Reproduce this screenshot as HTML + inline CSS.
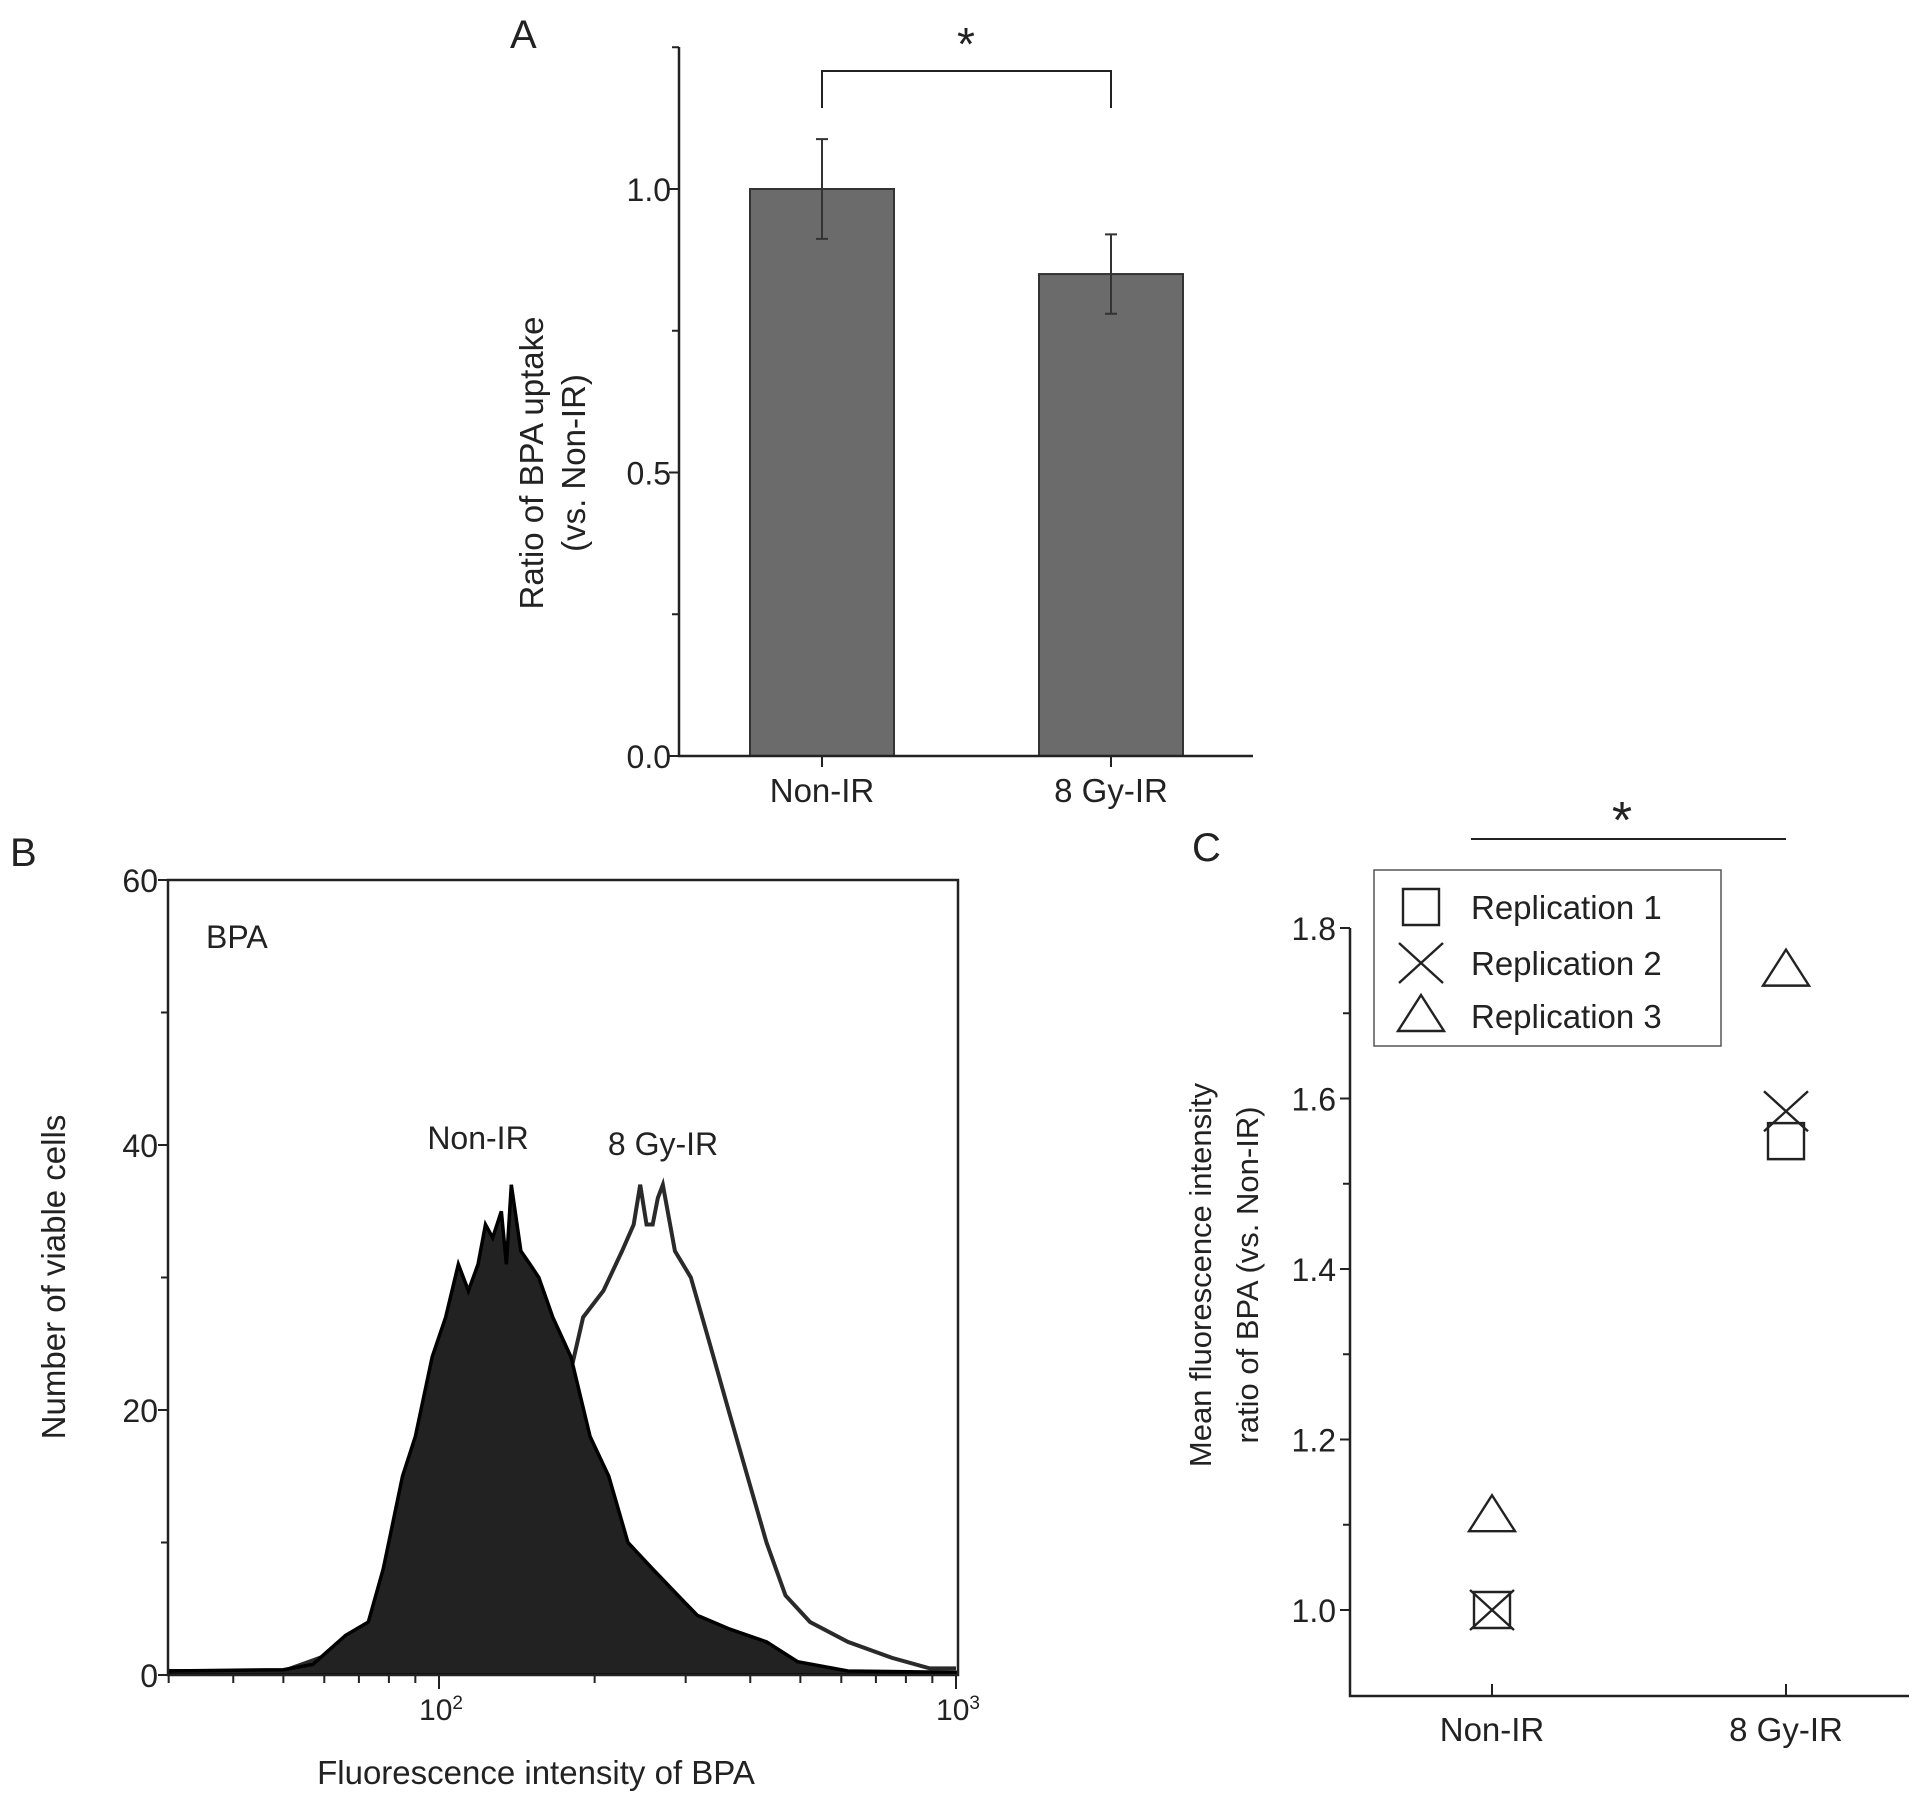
<!DOCTYPE html>
<html><head><meta charset="utf-8"><style>
html,body{margin:0;padding:0;background:#fff}
svg{display:block}
text{font-family:"Liberation Sans",Arial,sans-serif;fill:#222}
</style></head><body>
<svg id="fig" width="1913" height="1793" viewBox="0 0 1913 1793" xmlns="http://www.w3.org/2000/svg">
<g id="pa"></g>
<g id="pb"></g>
<g id="pc"></g>
</svg>
<script>
// ---- Panel A data ----
const aCategories = ["Non-IR", "8 Gy-IR"];
const aValues = [1.0, 0.85];
const aErrors = [0.088, 0.07];
const aTicks = [0.0, 0.5, 1.0];
const aTickLabels = ["0.0", "0.5", "1.0"];
const aMinor = [0.25, 0.75, 1.25];
// ---- Panel B data ----
const bTicks = [0, 20, 40, 60];
const bMinor = [10, 30, 50];
const bXMinor = [30,40,50,60,70,80,90,200,300,400,500,600,700,800,900];
const bNonX = [30,50,57,66,73,78,85,90,97,103,109,114,119,123,127,132,135,138,144,150,156,166,180,196,213,232,259,290,316,363,430,494,618,1000];
const bNonY = [0.3,0.4,0.8,3,4,8,15,18,24,27,31,29,31,34,33,35,31,37,32,31,30,27,24,18,15,10,8,6,4.5,3.5,2.5,1,0.3,0.2];
const bIrX = [30,50,66,78,90,103,119,138,156,180,190,208,226,238,245,252,259,265,271,286,307,334,363,395,430,468,522,618,751,890,1000];
const bIrY = [0.3,0.3,2,5,12,18,21,22,22,23,27,29,32,34,37,34,34,36,37,32,30,25,20,15,10,6,4,2.5,1.3,0.5,0.5];
// ---- Panel C data ----
const cCategories = ["Non-IR", "8 Gy-IR"];
const cRep1 = [1.0, 1.55];
const cRep2 = [1.0, 1.585];
const cRep3 = [1.11, 1.75];
const cTicks = [1.0, 1.2, 1.4, 1.6, 1.8];
const cTickLabels = ["1.0", "1.2", "1.4", "1.6", "1.8"];
const cMinor = [1.1, 1.3, 1.5, 1.7];

const NS = "http://www.w3.org/2000/svg";
function mk(parent, tag, attrs, txt){
  const e = document.createElementNS(NS, tag);
  for (const k in attrs) e.setAttribute(k, attrs[k]);
  if (txt !== undefined) e.textContent = txt;
  parent.appendChild(e);
  return e;
}
const S = "#222";

// ================= Panel A =================
(function(){
  const g = document.getElementById("pa");
  const x0 = 679, x1 = 1253, y0 = 756, yTop = 47;
  const ay = v => y0 - v * 567;
  const ax = i => [822, 1111][i];
  const bw = 144;
  let t = mk(g, "text", {x: 510, y: 48, "font-size": 40}, "A");
  
  
  aCategories.forEach((c, i) => {
    const r = mk(g, "rect", {x: ax(i) - bw/2, y: ay(aValues[i]), width: bw, height: y0 - ay(aValues[i]), fill: "#6b6b6b", stroke: "#333", "stroke-width": 2});
    
    
    const eb = mk(g, "path", {d: `M${ax(i)},${ay(aValues[i]+aErrors[i])}V${ay(aValues[i]-aErrors[i])}M${ax(i)-6},${ay(aValues[i]+aErrors[i])}h12M${ax(i)-6},${ay(aValues[i]-aErrors[i])}h12`, stroke: "#333", "stroke-width": 2, fill: "none"});
    
    
    const tk = mk(g, "line", {x1: ax(i), x2: ax(i), y1: y0, y2: y0 + 11, stroke: S, "stroke-width": 2});
    
    
    const lb = mk(g, "text", {x: ax(i), y: y0 + 46, "font-size": 33, "text-anchor": "middle"}, c);
    
    
  });
  const ax1 = mk(g, "path", {d: `M${x0},${yTop}V${y0}H${x1}`, stroke: S, "stroke-width": 2.5, fill: "none"});
  
  
  aTicks.forEach((v, i) => {
    const l = mk(g, "line", {x1: x0 - 10, x2: x0, y1: ay(v), y2: ay(v), stroke: S, "stroke-width": 2});
    
    
    const tx = mk(g, "text", {x: x0 - 8, y: ay(v) + 12, "font-size": 32, "text-anchor": "end"}, aTickLabels[i]);
    
    
  });
  aMinor.forEach(v => {
    const l = mk(g, "line", {x1: x0 - 7, x2: x0, y1: ay(v), y2: ay(v), stroke: S, "stroke-width": 2});
    
    
  });
  const yt = mk(g, "text", {transform: "translate(543,463) rotate(-90)", "font-size": 33, "text-anchor": "middle"}, "Ratio of BPA uptake");
  
  
  const yt2 = mk(g, "text", {transform: "translate(585,463) rotate(-90)", "font-size": 33, "text-anchor": "middle"}, "(vs. Non-IR)");
  
  
  const br = mk(g, "path", {d: `M${ax(0)},108V71H${ax(1)}V108`, stroke: S, "stroke-width": 2, fill: "none"});
  
  
  const st = mk(g, "text", {x: 966, y: 60, "font-size": 46, "text-anchor": "middle"}, "*");
  
  
})();

// ================= Panel B =================
(function(){
  const g = document.getElementById("pb");
  const L = 168, R = 958, T = 880, B = 1675;
  const lx = v => 439 + (Math.log10(v) - 2) * 517;
  const by = v => B - v * (B - T) / 60;
  let t = mk(g, "text", {x: 10, y: 866, "font-size": 40}, "B");
  
  
  const clip = mk(g, "clipPath", {id: "bclip"});
  mk(clip, "rect", {x: L, y: T, width: R - L, height: B - T});
  let d2 = `M${lx(bIrX[0])},${by(0)}`;
  bIrX.forEach((x, i) => d2 += `L${lx(x)},${by(bIrY[i])}`);
  const ir = mk(g, "path", {d: d2, fill: "none", stroke: "#2a2a2a", "stroke-width": 4, "clip-path": "url(#bclip)"});
  
  
  let d1 = `M${lx(bNonX[0])},${by(0)}`;
  bNonX.forEach((x, i) => d1 += `L${lx(x)},${by(bNonY[i])}`);
  d1 += `L${lx(bNonX[bNonX.length-1])},${by(0)}Z`;
  const non = mk(g, "path", {d: d1, fill: "#222", stroke: "#000", "stroke-width": 3.5, "clip-path": "url(#bclip)"});
  
  
  const box = mk(g, "rect", {x: L, y: T, width: R - L, height: B - T, fill: "none", stroke: S, "stroke-width": 2.5});
  
  
  bTicks.forEach(v => {
    const l = mk(g, "line", {x1: L - 10, x2: L, y1: by(v), y2: by(v), stroke: S, "stroke-width": 2});
    
    
    const tx = mk(g, "text", {x: L - 10, y: by(v) + 12, "font-size": 32, "text-anchor": "end"}, String(v));
    
    
  });
  bMinor.forEach(v => {
    const l = mk(g, "line", {x1: L - 7, x2: L, y1: by(v), y2: by(v), stroke: S, "stroke-width": 2});
    
    
  });
  bXMinor.forEach(v => {
    const l = mk(g, "line", {x1: lx(v), x2: lx(v), y1: B, y2: B + 8, stroke: S, "stroke-width": 2});
    
    
  });
  [100, 1000].forEach((v, i) => {
    const l = mk(g, "line", {x1: lx(v), x2: lx(v), y1: B, y2: B + 14, stroke: S, "stroke-width": 2});
    
    
    const tx = mk(g, "text", {x: lx(v) + 2, y: B + 45, "font-size": 30, "text-anchor": "middle"});
    
    
    mk(tx, "tspan", {}, "10");
    mk(tx, "tspan", {dy: -11, "font-size": 19}, i ? "3" : "2");
  });
  const lbl = [["BPA", 206, 948, "start", "bpa-label"], ["Non-IR", 478, 1149, "middle", "non-ir-label"], ["8 Gy-IR", 663, 1155, "middle", "8gy-ir-label"]];
  lbl.forEach(a => {
    const tx = mk(g, "text", {x: a[1], y: a[2], "font-size": 32, "text-anchor": a[3]}, a[0]);
    
    
  });
  const xt = mk(g, "text", {x: 536, y: 1784, "font-size": 33, "text-anchor": "middle"}, "Fluorescence intensity of BPA");
  
  
  const yt = mk(g, "text", {transform: "translate(65,1277) rotate(-90)", "font-size": 33, "text-anchor": "middle"}, "Number of viable cells");
  
  
})();

// ================= Panel C =================
(function(){
  const g = document.getElementById("pc");
  const x0 = 1350, x1 = 1909, y0 = 1696;
  const cy = v => 1610 - (v - 1.0) * 852.5;
  const cx = i => [1492, 1786][i];
  let t = mk(g, "text", {x: 1192, y: 861, "font-size": 40}, "C");
  
  
  const ax1 = mk(g, "path", {d: `M${x0},${cy(1.8)}V${y0}H${x1}`, stroke: S, "stroke-width": 2.5, fill: "none"});
  
  
  cTicks.forEach((v, i) => {
    const l = mk(g, "line", {x1: x0 - 10, x2: x0, y1: cy(v), y2: cy(v), stroke: S, "stroke-width": 2});
    
    
    const tx = mk(g, "text", {x: x0 - 14, y: cy(v) + 12, "font-size": 32, "text-anchor": "end"}, cTickLabels[i]);
    
    
  });
  cMinor.forEach(v => {
    const l = mk(g, "line", {x1: x0 - 7, x2: x0, y1: cy(v), y2: cy(v), stroke: S, "stroke-width": 2});
    
    
  });
  cCategories.forEach((c, i) => {
    const l = mk(g, "line", {x1: cx(i), x2: cx(i), y1: y0, y2: y0 - 12, stroke: S, "stroke-width": 2});
    
    
    const tx = mk(g, "text", {x: cx(i), y: 1741, "font-size": 33, "text-anchor": "middle"}, c);
    
    
  });
  function sq(x, y){ return `M${x-18},${y-18}h36v36h-36Z`; }
  function cr(x, y){ return `M${x-22},${y-20}L${x+22},${y+20}M${x+22},${y-20}L${x-22},${y+20}`; }
  function tr(x, y){ return `M${x},${y-21}L${x+23},${y+15}H${x-23}Z`; }
  const mark = (d, name) => {
    const p = mk(g, "path", {d: d, fill: "none", stroke: S, "stroke-width": 2.4});
    
    
  };
  cCategories.forEach((c, i) => {
    mark(sq(cx(i), cy(cRep1[i])), 'point-rep1');
    mark(cr(cx(i), cy(cRep2[i])), 'point-rep2');
    mark(tr(cx(i), cy(cRep3[i])), 'point-rep3');
  });
  const lg = mk(g, "g", {});
  
  
  mk(lg, "rect", {x: 1374, y: 870, width: 347, height: 176, fill: "#fff", stroke: "#555", "stroke-width": 1.5});
  const entries = [["Replication 1", sq, 907], ["Replication 2", cr, 963], ["Replication 3", tr, 1016]];
  entries.forEach(e => {
    const p = mk(lg, "path", {d: e[1](1421, e[2]), fill: "none", stroke: S, "stroke-width": 2.4});
    
    
    const tx = mk(lg, "text", {x: 1471, y: e[2] + 12, "font-size": 33}, e[0]);
    
    
  });
  const sl = mk(g, "line", {x1: 1471, x2: 1786, y1: 839, y2: 839, stroke: S, "stroke-width": 2});
  
  
  const st = mk(g, "text", {x: 1622, y: 838, "font-size": 52, "text-anchor": "middle"}, "*");
  
  
  const y1 = mk(g, "text", {transform: "translate(1211,1275) rotate(-90)", "font-size": 31, "text-anchor": "middle"}, "Mean fluorescence intensity");
  
  
  const y2 = mk(g, "text", {transform: "translate(1258,1275) rotate(-90)", "font-size": 31, "text-anchor": "middle"}, "ratio of BPA (vs. Non-IR)");
  
  
})();
</script>
</body></html>
